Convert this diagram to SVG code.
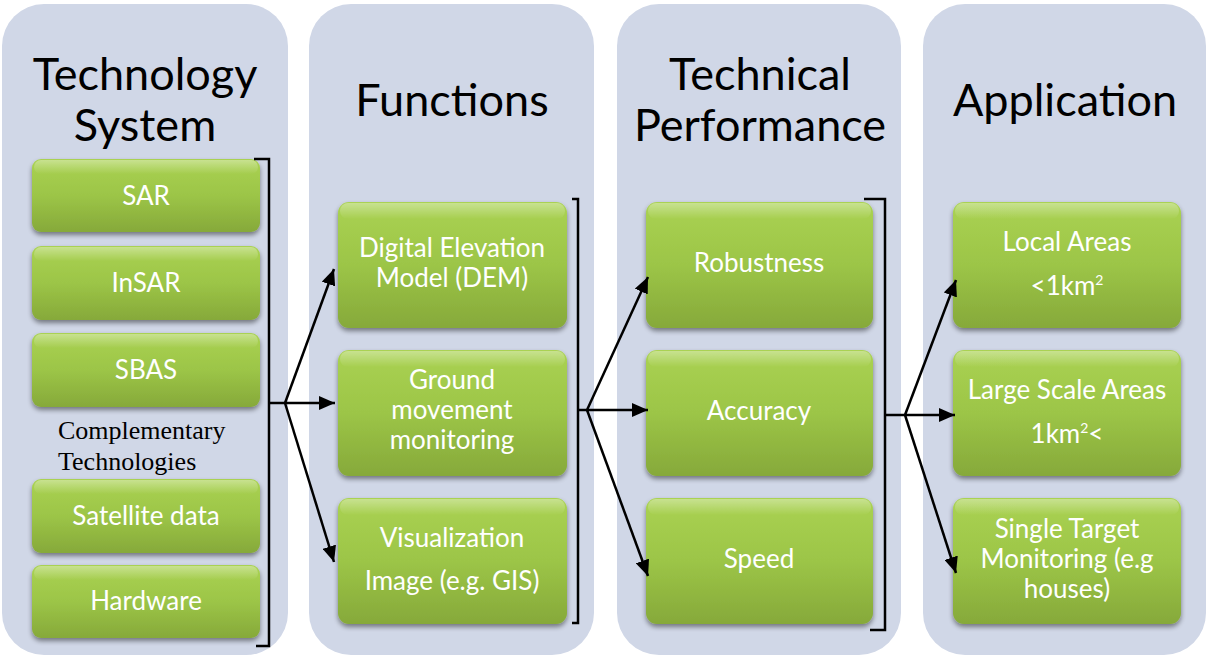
<svg xmlns="http://www.w3.org/2000/svg" width="1208" height="658" viewBox="0 0 1208 658">
  <defs>
    <linearGradient id="boxFill" x1="0" y1="0" x2="0" y2="1">
      <stop offset="0" stop-color="#AAD253"/>
      <stop offset="0.5" stop-color="#9CC547"/>
      <stop offset="1" stop-color="#86A93A"/>
    </linearGradient>
    <linearGradient id="boxShine" x1="0" y1="0" x2="0" y2="1">
      <stop offset="0" stop-color="#ffffff" stop-opacity="0.35"/>
      <stop offset="1" stop-color="#ffffff" stop-opacity="0"/>
    </linearGradient>
    <filter id="shadow" x="-10%" y="-10%" width="120%" height="130%">
      <feGaussianBlur in="SourceAlpha" stdDeviation="2.5"/>
      <feOffset dx="0" dy="3" result="b"/>
      <feComponentTransfer><feFuncA type="linear" slope="0.45"/></feComponentTransfer>
      <feMerge><feMergeNode/><feMergeNode in="SourceGraphic"/></feMerge>
    </filter>
    <marker id="arrow" markerUnits="userSpaceOnUse" markerWidth="18" markerHeight="14" refX="16" refY="7" orient="auto">
      <path d="M0,0 L16,7 L0,14 z" fill="#000"/>
    </marker>
  </defs>
  <style>
    .panel { fill: #D0D7E7; }
    .title { font-family: Lato, "Liberation Sans", sans-serif; font-size: 45px; fill: #000; text-anchor: middle; }
    .box { fill: url(#boxFill); filter: url(#shadow); }
    .shine { fill: url(#boxShine); }
    .label { font-family: Lato, "Liberation Sans", sans-serif; font-size: 26px; fill: #fff; text-anchor: middle; }
    .sup { font-size: 14px; }
    .note { font-family: "Liberation Serif", serif; font-size: 26px; fill: #000; }
    .bracket { fill: none; stroke: #000; stroke-width: 2.5; }
    .link { fill: none; stroke: #000; stroke-width: 2.5; }
  </style>

  <rect width="1208" height="658" fill="#fff"/>

  <!-- column panels -->
  <rect class="panel" x="2" y="4" width="286" height="651" rx="42"/>
  <rect class="panel" x="309" y="4" width="285" height="651" rx="42"/>
  <rect class="panel" x="617" y="4" width="284" height="651" rx="42"/>
  <rect class="panel" x="923" y="4" width="283" height="651" rx="42"/>

  <!-- column headings -->
  <text class="title" x="145" y="90">Technology</text>
  <text class="title" x="145" y="141">System</text>
  <text class="title" x="452" y="116">Functions</text>
  <text class="title" x="760" y="90">Technical</text>
  <text class="title" x="760" y="141">Performance</text>
  <text class="title" x="1065" y="116">Application</text>

  <!-- Technology System -->
  <g id="sar">
    <rect class="box" x="32" y="159" width="228" height="73" rx="9"/>
    <rect class="shine" x="34" y="160" width="224" height="14" rx="7"/>
    <text class="label" x="146" y="205">SAR</text>
  </g>
  <g id="insar">
    <rect class="box" x="32" y="246" width="228" height="74" rx="9"/>
    <rect class="shine" x="34" y="247" width="224" height="14" rx="7"/>
    <text class="label" x="146" y="292">InSAR</text>
  </g>
  <g id="sbas">
    <rect class="box" x="32" y="333" width="228" height="74" rx="9"/>
    <rect class="shine" x="34" y="334" width="224" height="14" rx="7"/>
    <text class="label" x="146" y="379">SBAS</text>
  </g>
  <g id="complementary">
    <text class="note" x="58" y="439">Complementary</text>
    <text class="note" x="58" y="470">Technologies</text>
  </g>
  <g id="satellite-data">
    <rect class="box" x="32" y="479" width="228" height="74" rx="9"/>
    <rect class="shine" x="34" y="480" width="224" height="14" rx="7"/>
    <text class="label" x="146" y="525">Satellite data</text>
  </g>
  <g id="hardware">
    <rect class="box" x="32" y="565" width="228" height="73" rx="9"/>
    <rect class="shine" x="34" y="566" width="224" height="14" rx="7"/>
    <text class="label" x="146" y="610">Hardware</text>
  </g>

  <!-- Functions -->
  <g id="dem">
    <rect class="box" x="338" y="202" width="229" height="126" rx="11"/>
    <rect class="shine" x="340" y="203" width="225" height="16" rx="8"/>
    <text class="label" x="452" y="257">Digital Elevation</text>
    <text class="label" x="452" y="287">Model (DEM)</text>
  </g>
  <g id="ground-movement">
    <rect class="box" x="338" y="350" width="229" height="126" rx="11"/>
    <rect class="shine" x="340" y="351" width="225" height="16" rx="8"/>
    <text class="label" x="452" y="389">Ground</text>
    <text class="label" x="452" y="419">movement</text>
    <text class="label" x="452" y="449">monitoring</text>
  </g>
  <g id="visualization">
    <rect class="box" x="338" y="498" width="229" height="126" rx="11"/>
    <rect class="shine" x="340" y="499" width="225" height="16" rx="8"/>
    <text class="label" x="452" y="547">Visualization</text>
    <text class="label" x="452" y="590">Image (e.g. GIS)</text>
  </g>

  <!-- Technical Performance -->
  <g id="robustness">
    <rect class="box" x="646" y="202" width="227" height="126" rx="11"/>
    <rect class="shine" x="648" y="203" width="223" height="16" rx="8"/>
    <text class="label" x="759" y="272">Robustness</text>
  </g>
  <g id="accuracy">
    <rect class="box" x="646" y="350" width="227" height="126" rx="11"/>
    <rect class="shine" x="648" y="351" width="223" height="16" rx="8"/>
    <text class="label" x="759" y="420">Accuracy</text>
  </g>
  <g id="speed">
    <rect class="box" x="646" y="498" width="227" height="126" rx="11"/>
    <rect class="shine" x="648" y="499" width="223" height="16" rx="8"/>
    <text class="label" x="759" y="568">Speed</text>
  </g>

  <!-- Application -->
  <g id="local-areas">
    <rect class="box" x="953" y="202" width="228" height="126" rx="11"/>
    <rect class="shine" x="955" y="203" width="224" height="16" rx="8"/>
    <text class="label" x="1067" y="251">Local Areas</text>
    <text class="label" x="1067" y="295">&lt;1km<tspan class="sup" dy="-10">2</tspan></text>
  </g>
  <g id="large-scale-areas">
    <rect class="box" x="953" y="350" width="228" height="126" rx="11"/>
    <rect class="shine" x="955" y="351" width="224" height="16" rx="8"/>
    <text class="label" x="1067" y="399">Large Scale Areas</text>
    <text class="label" x="1067" y="443">1km<tspan class="sup" dy="-10">2</tspan><tspan dy="10">&lt;</tspan></text>
  </g>
  <g id="single-target">
    <rect class="box" x="953" y="498" width="228" height="126" rx="11"/>
    <rect class="shine" x="955" y="499" width="224" height="16" rx="8"/>
    <text class="label" x="1067" y="538">Single Target</text>
    <text class="label" x="1067" y="568">Monitoring (e.g</text>
    <text class="label" x="1067" y="598">houses)</text>
  </g>

  <!-- brackets and fan-out connectors -->
  <g id="connectors">
    <path class="bracket" d="M254,159 H269 V646 H256"/>
    <path class="bracket" d="M572,199 H578 V623 H572"/>
    <path class="bracket" d="M864,199 H885 V630 H870"/>

    <path class="link" d="M269,403 H285"/>
    <path class="link" d="M285,403 L334,269" marker-end="url(#arrow)"/>
    <path class="link" d="M285,403 H335" marker-end="url(#arrow)"/>
    <path class="link" d="M285,403 L334,562" marker-end="url(#arrow)"/>

    <path class="link" d="M578,410 H587"/>
    <path class="link" d="M587,410 L648,277" marker-end="url(#arrow)"/>
    <path class="link" d="M587,410 H648" marker-end="url(#arrow)"/>
    <path class="link" d="M587,410 L648,576" marker-end="url(#arrow)"/>

    <path class="link" d="M885,415 H905"/>
    <path class="link" d="M905,415 L956,280" marker-end="url(#arrow)"/>
    <path class="link" d="M905,415 H955" marker-end="url(#arrow)"/>
    <path class="link" d="M905,415 L956,573" marker-end="url(#arrow)"/>
  </g>
</svg>
